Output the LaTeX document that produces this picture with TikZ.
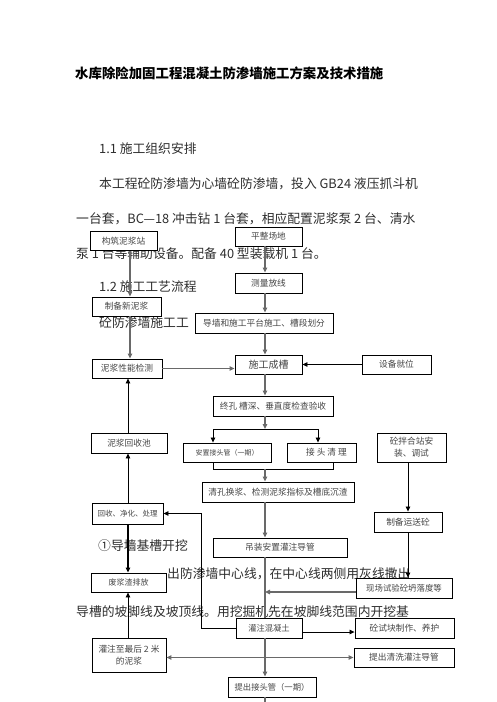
\documentclass[tikz,border=0pt]{standalone}
\usepackage{fontspec}
\setmainfont{Noto Sans CJK SC}
\usetikzlibrary{arrows.meta}
\definecolor{lineGray}{RGB}{105,105,105}
\definecolor{inkGray}{RGB}{45,45,45}
\definecolor{boxInk}{RGB}{70,70,70}

\begin{document}
\begin{tikzpicture}[x=1pt, y=-1pt,
            box/.style={draw, fill=white, line width=0.9pt, inner sep=0pt, align=center, text=boxInk, font=\fontsize{8.7}{12}\selectfont},
            txt/.style={anchor=west, inner sep=0pt, text height=10pt, text depth=2.5pt, text=inkGray, font=\fontsize{12.8}{14}\selectfont},
            gline/.style={draw=lineGray, line width=1.7pt},
            kline/.style={draw=black, line width=0.8pt},
            >={Triangle[length=5pt, width=4.5pt]}]
            \useasboundingbox (0,0) rectangle (496,702);

            \node (title) at (75,75) [txt, text=black, font=\bfseries\fontsize{13.4}{14}\selectfont] {水库除险加固工程混凝土防渗墙施工方案及技术措施};
            \node (sec1) at (99,150) [txt] {1.1 施工组织安排};
            \node (para1) at (99,185) [txt] {本工程砼防渗墙为心墙砼防渗墙，投入 GB24 液压抓斗机};
            \node (para2) at (76,220) [txt] {一台套，BC—18 冲击钻 1 台套，相应配置泥浆泵 2 台、清水};
            \node (para3) at (76,255) [txt] {泵 1 台等辅助设备。配备 40 型装载机 1 台。};
            \node (sec2) at (99,288) [txt] {1.2 施工工艺流程};
            \node (para4) at (99,324) [txt] {砼防渗墙施工工};
            \node (step1) at (98,547) [txt] {①导墙基槽开挖};
            \node (para5) at (167,575) [txt] {出防渗墙中心线，在中心线两侧用灰线撒出};
            \node (para6) at (76,613) [txt] {导槽的坡脚线及坡顶线。用挖掘机先在坡脚线范围内开挖基};

            \node (zhan) at (123.5,241) [box, minimum width=67, minimum height=19.5] {构筑泥浆站};
            \node (pingzheng) at (268.5,236.5) [box, minimum width=67, minimum height=19] {平整场地};
            \node (celiang) at (268.5,283) [box, minimum width=67, minimum height=20] {测量放线};
            \node (xinjiang) at (126.5,306.5) [box, minimum width=69, minimum height=19] {制备新泥浆};
            \node (daoqiang) at (264,323) [box, minimum width=138, minimum height=20] {导墙和施工平台施工、槽段划分};
            \node (chengcao) at (268.5,364.5) [box, minimum width=67, minimum height=19, font=\fontsize{10}{12}\selectfont] {施工成槽};
            \node (jiuwei) at (396.5,364.5) [box, minimum width=69, minimum height=19] {设备就位};
            \node (jiance) at (127,368.5) [box, minimum width=70, minimum height=19] {泥浆性能检测};
            \node (zhongkong) at (273,406) [box, minimum width=120, minimum height=20] {终孔 槽深、垂直度检查验收};
            \node (huishouchi) at (129,443) [box, minimum width=76, minimum height=20] {泥浆回收池};
            \node (jietouguan) at (227,452.5) [box, minimum width=88, minimum height=19, font=\fontsize{7}{9}\selectfont] {安置接头管（一期）};
            \node (qingli) at (321.5,452.5) [box, minimum width=69, minimum height=19] {\hspace{10pt}接 头 清 理};
            \node (banhe) at (411.5,447.5) [box, minimum width=69, minimum height=29] {砼拌合站安\\装、调试};
            \node (qingkong) at (278,492) [box, minimum width=152, minimum height=20] {清孔换浆、检测泥浆指标及槽底沉渣};
            \node (jinghua) at (127.5,513.5) [box, minimum width=71, minimum height=21, font=\fontsize{7.5}{9}\selectfont] {回收、净化、处理};
            \node (yunsong) at (408,522) [box, minimum width=68, minimum height=20] {制备运送砼};
            \node (diaozhuang) at (280,547.5) [box, minimum width=134, minimum height=19] {吊装安置灌注导管};
            \node (feijiang) at (128.5,582.5) [box, minimum width=75, minimum height=19, font=\fontsize{8}{10}\selectfont] {废浆渣排放};
            \node (shiyan) at (404,588) [box, minimum width=96, minimum height=20, font=\fontsize{8.4}{10}\selectfont] {现场试验砼坍落度等};
            \node (guanzhu) at (269,628) [box, minimum width=66, minimum height=20, font=\fontsize{8.3}{10}\selectfont] {灌注混凝土};
            \node (shikuai) at (404.5,628) [box, minimum width=99, minimum height=20] {砼试块制作、养护};
            \node (zuihou) at (129,655) [box, minimum width=74, minimum height=34] {灌注至最后 2 米\\的泥浆};
            \node (daoguan) at (404,657.5) [box, minimum width=100, minimum height=19] {提出清洗灌注导管};
            \node (jietouba) at (272,687) [box, minimum width=88, minimum height=20, font=\fontsize{8.3}{10}\selectfont] {提出接头管（一期）};

            \coordinate (spine) at (265,0);
            \coordinate (lcol) at (130,0);
            \coordinate (mcol) at (128,0);
            \coordinate (fcol) at (201,0);
            \coordinate (rcol) at (408,0);
            \coordinate (splitL) at (213,429);
            \coordinate (splitR) at (318,429);
            \coordinate (joinL) at (213,469);
            \coordinate (joinR) at (333,469);
            \coordinate (slump) at ([yshift=-4pt]shiyan.west);
            \coordinate (pourR) at ([yshift=-4pt]guanzhu.east);
            \coordinate (pageend) at (265,702);

            \draw[gline, ->] (lcol |- zhan.south) -- (lcol |- xinjiang.north);
            \draw[gline, ->] (lcol |- xinjiang.south) -- (lcol |- jiance.north);
            \draw[gline, ->] (spine |- pingzheng.south) -- (spine |- celiang.north);
            \draw[gline, ->] (spine |- celiang.south) -- (spine |- daoqiang.north);
            \draw[gline, ->] (spine |- daoqiang.south) -- (spine |- chengcao.north);
            \draw[gline, ->] (jiance.east) -- (chengcao.west |- jiance.east);
            \draw[kline, ->] (jiuwei.west) -- (chengcao.east |- jiuwei.west);
            \draw[gline, ->] (spine |- chengcao.south) -- (spine |- zhongkong.north);
            \draw[gline, ->] (spine |- zhongkong.south) -- (spine |- splitL);
            \draw[kline] (splitL) -- (splitR);
            \draw[kline, ->] (splitL) -- (splitL |- jietouguan.north);
            \draw[kline, ->] (splitR) -- (splitR |- qingli.north);
            \draw[kline] (joinL |- jietouguan.south) -- (joinL) -- (joinR) -- (joinR |- qingli.south);
            \draw[gline, ->] (spine |- joinL) -- (spine |- qingkong.north);
            \draw[gline, ->] (spine |- qingkong.south) -- (spine |- diaozhuang.north);
            \draw[gline] (spine |- diaozhuang.south) -- (spine |- guanzhu.north);
            \draw[gline, ->] (slump) -- (spine |- slump);
            \draw[kline, ->] (rcol |- banhe.south) -- (rcol |- yunsong.north);
            \draw[kline, ->] (rcol |- yunsong.south) -- (rcol |- shiyan.north);
            \draw[kline, ->] (pourR) -- (shikuai.west |- pourR);
            \draw[kline, ->] (guanzhu.west) -- (fcol |- guanzhu.west) -- (fcol |- jinghua.east) -- (jinghua.east);
            \draw[kline, ->] (mcol |- jinghua.north) -- (mcol |- huishouchi.south);
            \draw[kline, ->] (mcol |- huishouchi.north) -- (mcol |- jiance.south);
            \draw[kline, line width=1.1pt, ->] (mcol |- jinghua.south) -- (mcol |- feijiang.north);
            \draw[kline, ->] (mcol |- zuihou.north) -- (mcol |- feijiang.south);
            \draw[gline, <->] (zuihou.east |- daoguan.west) -- (daoguan.west);
            \draw[gline, ->] (spine |- guanzhu.south) -- (spine |- jietouba.north);
            \draw[gline] (spine |- jietouba.south) -- (pageend);
        \end{tikzpicture}
\end{document}
